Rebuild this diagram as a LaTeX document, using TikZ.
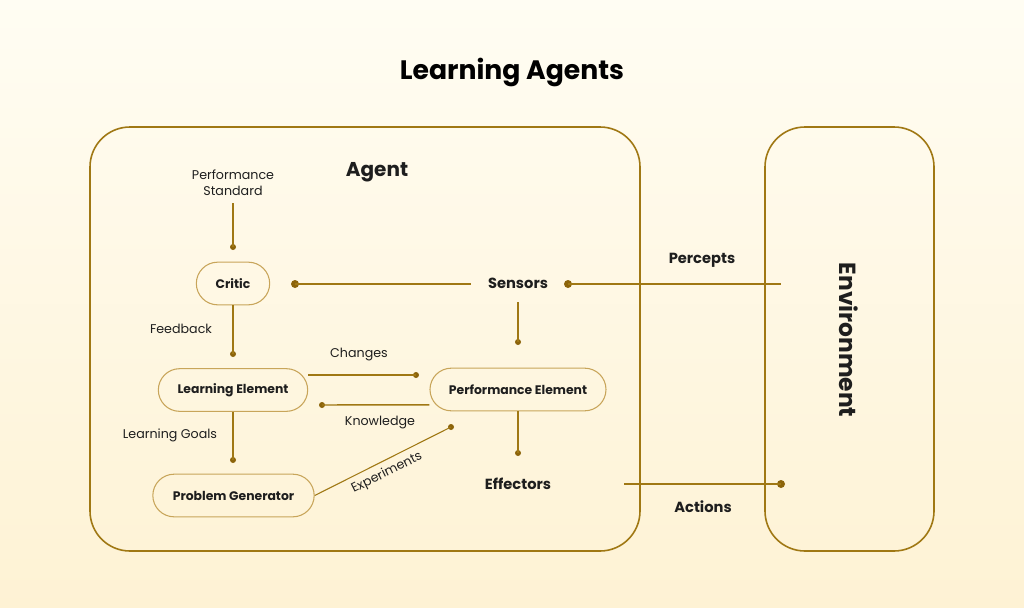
\documentclass[tikz,border=0pt]{standalone}
\usepackage{fontspec}
\setmainfont{Poppins}
\definecolor{gold}{RGB}{160,120,20}
\definecolor{dotc}{RGB}{140,100,10}
\definecolor{nodeb}{RGB}{200,165,90}
\definecolor{txt}{RGB}{30,30,30}
\definecolor{bgtop}{RGB}{255,253,243}
\definecolor{bgbot}{RGB}{254,242,212}
\begin{document}
\begin{tikzpicture}[x=0.75pt,y=-0.75pt,
  conn/.style={draw=gold,line width=1.1pt},
  bigbox/.style={draw=gold,line width=1.2pt,rounded corners=30pt},
  elem/.style={draw=nodeb,line width=0.8pt,rounded corners=16pt,minimum height=32pt,inner sep=0pt,font=\fontsize{9.3}{11}\selectfont\bfseries,text=txt},
  lbl/.style={font=\fontsize{9.5}{12}\selectfont,text=txt,align=center,inner sep=1pt},
  blbl/.style={font=\fontsize{11}{13}\selectfont\bfseries,text=txt,inner sep=1pt},
  bigdot/.style={fill=dotc,circle,inner sep=0pt,minimum size=6pt},
  smalldot/.style={fill=dotc,circle,inner sep=0pt,minimum size=4.5pt}]
\shade[top color=bgtop,bottom color=bgbot] (0,0) rectangle (1024,607);
\useasboundingbox (0,0) rectangle (1024,607);
\node[font=\fontsize{20}{23}\selectfont\bfseries,text=black] (title) at (512,72) {Learning Agents};
\draw[bigbox] (90,127) rectangle (640,551);
\draw[bigbox] (765,127) rectangle (934,551);
\node[font=\fontsize{15}{18}\selectfont\bfseries,text=txt] (agent) at (377,172) {Agent};
\node[font=\fontsize{17.5}{20}\selectfont\bfseries,text=txt,rotate=-90] (env) at (849,340) {Environment};
% nodes
\node[lbl] (ps) at (233,183) {Performance\\Standard};
\node[elem,minimum width=55pt] (critic) at (233,283.5) {Critic};
\node[elem,minimum width=112pt] (le) at (233,390) {Learning Element};
\node[elem,minimum width=132pt] (pe) at (518,389.5) {Performance Element};
\node[elem,minimum width=121pt] (pg) at (233.5,495.5) {Problem Generator};
\node[blbl] (sensors) at (518,283.5) {Sensors};
\node[blbl] (effectors) at (518,483.5) {Effectors};
\node[blbl] (percepts) at (702,260) {Percepts};
\node[blbl] (actions) at (703,507) {Actions};
\node[lbl] (feedback) at (181,329) {Feedback};
\node[lbl] (changes) at (359,355) {Changes};
\node[lbl] (knowledge) at (380,423) {Knowledge};
\node[lbl] (lgoals) at (170,435) {Learning Goals};
\node[lbl,rotate=26.4] (experiments) at (387,473) {Experiments};
% dots
\node[smalldot] (d1) at (233,247) {};
\node[bigdot] (d2) at (295,284) {};
\coordinate (s1) at (471,284);
\node[bigdot] (d3) at (568,284) {};
\coordinate (envin) at (781,284);
\node[smalldot] (d4) at (518,342) {};
\node[smalldot] (d5) at (233,354) {};
\node[smalldot] (d6) at (416,375) {};
\node[smalldot] (d7) at (322,405) {};
\node[smalldot] (d8) at (233,460) {};
\node[smalldot] (d9) at (451,427) {};
\node[smalldot] (d10) at (518,453) {};
\coordinate (actstart) at (624,484);
\node[bigdot] (d11) at (781,484) {};
% connectors
\draw[conn] (233,203) -- (d1.center);
\draw[conn] (d2.center) -- (s1);
\draw[conn] (d3.center) -- (envin);
\draw[conn] (518,302) -- (d4.center);
\draw[conn] (critic.south) -- (d5.center);
\draw[conn] (le.south) -- (d8.center);
\draw[conn] (le.east |- 0,375) -- (d6.center);
\draw[conn] ([yshift=-11.5pt]pe.west) -- (d7.center);
\draw[conn,line width=0.8pt] (pg.east) -- (d9.center);
\draw[conn] (pe.south) -- (d10.center);
\draw[conn] (actstart) -- (d11.center);
\end{tikzpicture}
\end{document}
